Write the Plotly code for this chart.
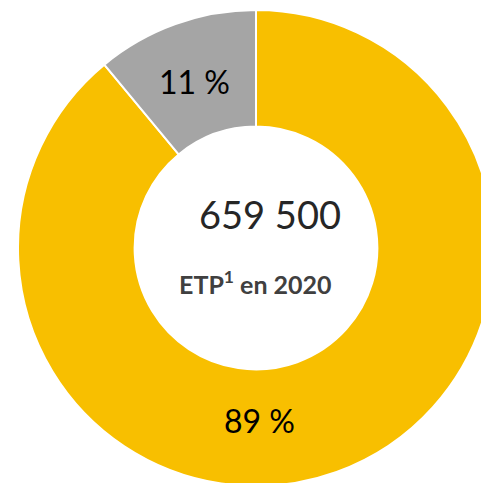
import plotly.graph_objects as go

labels = ["Part principale", "Autre part"]
values = [89, 11]
label_texts = ["89 %", "11 %"]
colors = ["#F8BF00", "#A5A5A5"]
center_value = "659 500"
center_caption = "ETP<sup>1</sup> en 2020"

W, H = 512, 496
cx, cy, R = 256, 248, 238

def px(x, y):
    return x / W, 1 - y / H

fig = go.Figure(go.Pie(
    labels=labels, values=values, hole=0.51, sort=False, direction="clockwise",
    rotation=0, marker=dict(colors=colors, line=dict(color="white", width=2)),
    textinfo="none", hoverinfo="label+percent", showlegend=False,
    domain=dict(x=[(cx - R) / W, (cx + R) / W], y=[1 - (cy + R) / H, 1 - (cy - R) / H]),
))

ann = []
for txt, (x, y) in zip(label_texts, [(259, 420), (194, 82)]):
    ax, ay = px(x, y)
    ann.append(dict(x=ax, y=ay, xref="paper", yref="paper", text=txt, showarrow=False,
                    font=dict(family="Lato", size=32, color="#000000"), xanchor="center", yanchor="middle"))
ax, ay = px(270, 214)
ann.append(dict(x=ax, y=ay, xref="paper", yref="paper", text=center_value, showarrow=False,
                font=dict(family="Lato", size=38, color="#262626"), xanchor="center", yanchor="middle"))
ax, ay = px(255, 282)
ann.append(dict(x=ax, y=ay, xref="paper", yref="paper", text="<b>" + center_caption + "</b>", showarrow=False,
                font=dict(family="Lato", size=25, color="#404040"), xanchor="center", yanchor="middle"))

fig.update_layout(width=W, height=H, autosize=False, margin=dict(l=0, r=0, t=0, b=0),
                  paper_bgcolor="white", plot_bgcolor="white", annotations=ann)
fig.write_html("out.html", config={"displayModeBar": False},
               post_script="document.body.style.margin='0';document.body.style.overflow='hidden';")
